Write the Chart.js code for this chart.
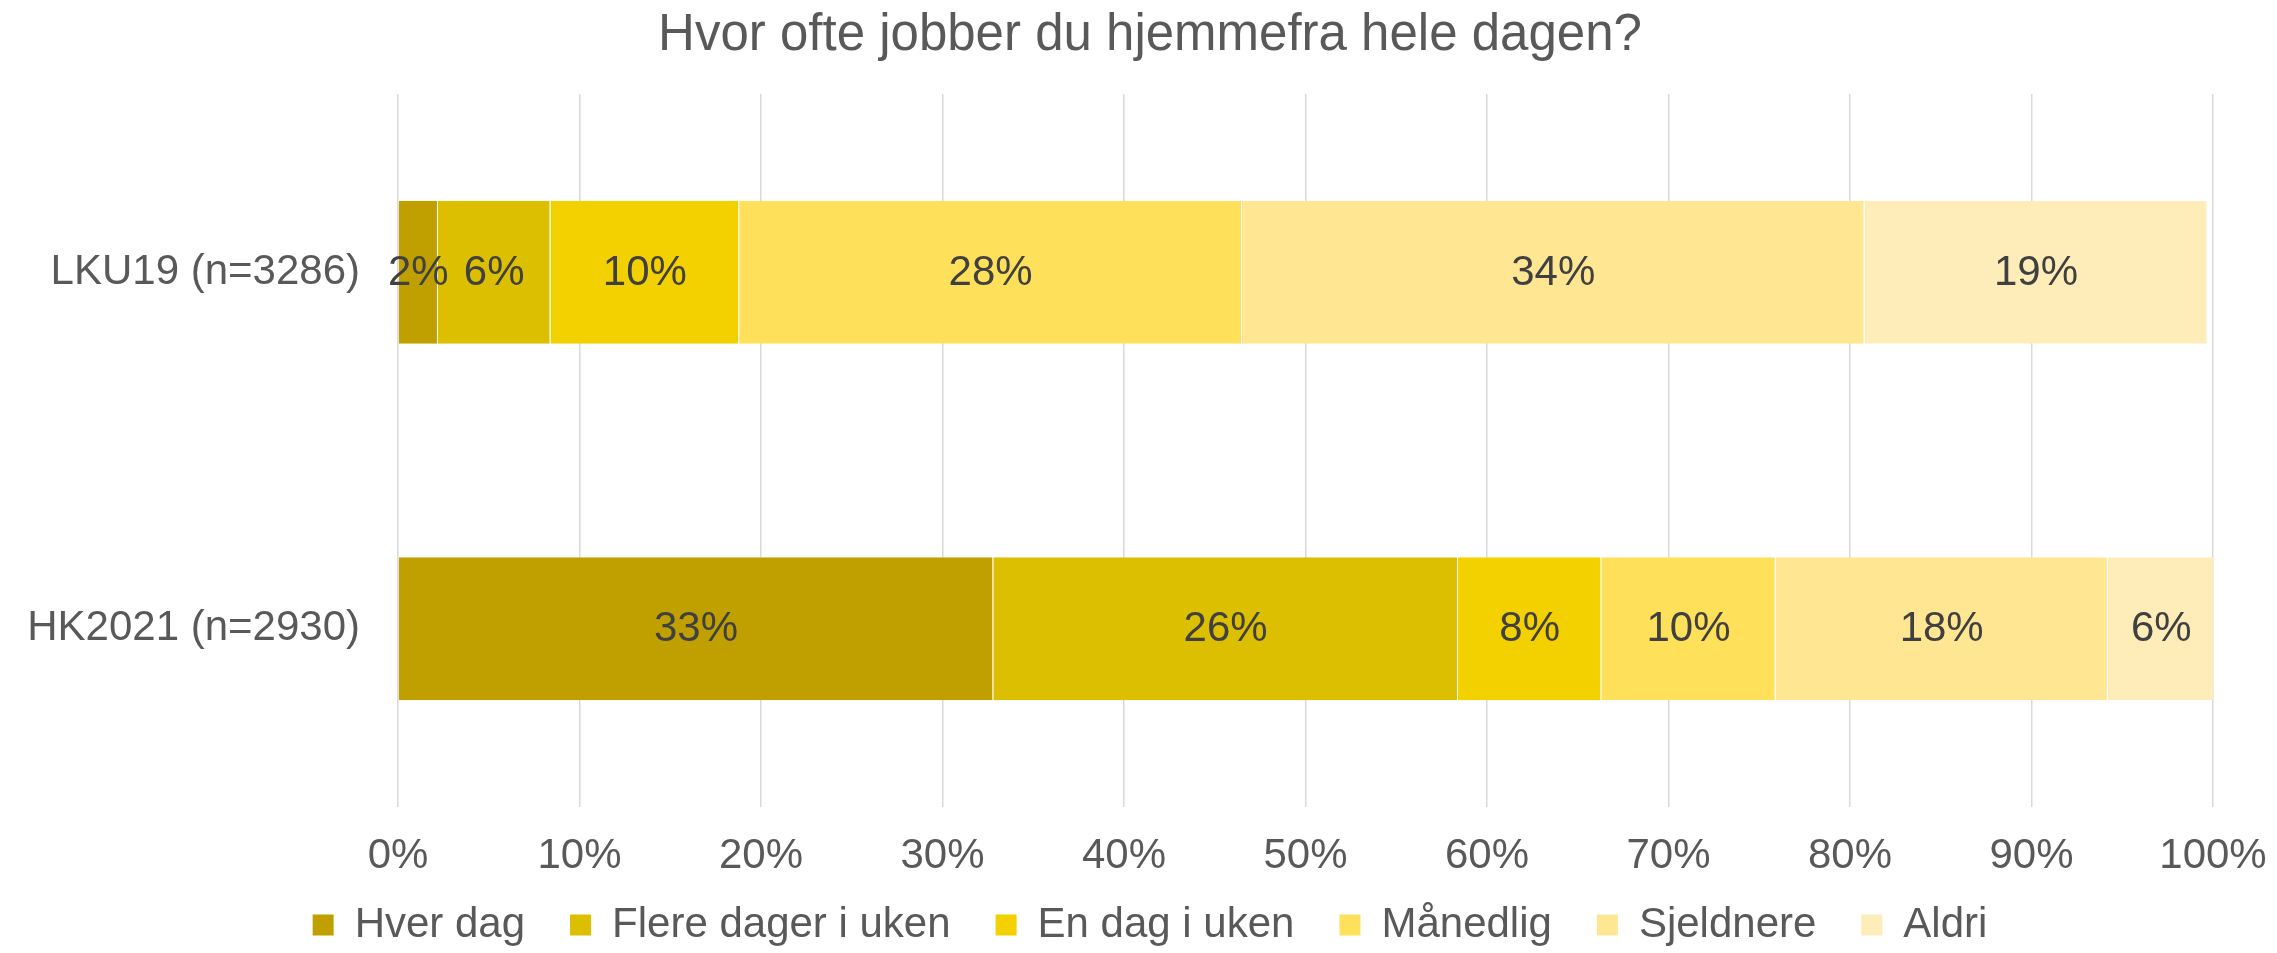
<!DOCTYPE html>
<html>
<head>
<meta charset="utf-8">
<script src="https://cdn.jsdelivr.net/npm/chart.js@4.4.1/dist/chart.umd.min.js"></script>
<style>
html,body{margin:0;padding:0;background:#fff;}
#wrap{width:2277px;height:953px;position:relative;}
</style>
</head>
<body>
<div id="wrap"><canvas id="c" width="2277" height="953"></canvas></div>
<script>
const categories = ['LKU19 (n=3286)', 'HK2021 (n=2930)'];
const seriesNames = ['Hver dag', 'Flere dager i uken', 'En dag i uken', 'Månedlig', 'Sjeldnere', 'Aldri'];
const hverDag = [2.2, 32.8];
const flereDager = [6.2, 25.6];
const enDag = [10.4, 7.9];
const maanedlig = [27.7, 9.6];
const sjeldnere = [34.3, 18.3];
const aldri = [18.9, 5.9];
const xTicks = [0, 10, 20, 30, 40, 50, 60, 70, 80, 90, 100];
const colors = ['#BFA000', '#DBBF00', '#F3D100', '#FFE05A', '#FFE693', '#FFEDB9'];
const seriesValues = [hverDag, flereDager, enDag, maanedlig, sjeldnere, aldri];

const FONT = "'Liberation Sans', Arial, sans-serif";

const barLabels = {
  id: 'barLabels',
  afterDatasetsDraw(chart) {
    const ctx = chart.ctx;
    ctx.save();
    ctx.font = '42px ' + FONT;
    ctx.fillStyle = '#404040';
    ctx.textAlign = 'center';
    ctx.textBaseline = 'middle';
    chart.data.datasets.forEach((ds, i) => {
      const meta = chart.getDatasetMeta(i);
      meta.data.forEach((el, j) => {
        const p = el.getProps(['x', 'y', 'base'], true);
        const v = ds.data[j];
        ctx.fillText(Math.round(v) + '%', (p.x + p.base) / 2, p.y + 1);
      });
    });
    ctx.restore();
  }
};

new Chart(document.getElementById('c'), {
  type: 'bar',
  data: {
    labels: categories,
    datasets: seriesNames.map((name, i) => ({
      label: name,
      data: seriesValues[i],
      backgroundColor: colors[i],
      borderColor: 'rgba(255,255,255,0.35)',
      borderWidth: {top: 0, bottom: 0, left: 0, right: 1},
      borderSkipped: false,
      categoryPercentage: 1,
      barPercentage: 0.401
    }))
  },
  options: {
    indexAxis: 'y',
    responsive: false,
    animation: false,
    devicePixelRatio: 1,
    layout: { padding: { left: 87, right: 64, top: 0, bottom: 0 } },
    scales: {
      x: {
        stacked: true,
        min: 0,
        max: 100,
        afterBuildTicks(scale) { scale.ticks = xTicks.map(v => ({ value: v })); },
        afterFit(scale) { scale.height = 52; scale._computeLabelArea = () => null; },
        grid: { color: '#D9D9D9', lineWidth: 1.5, drawTicks: false },
        border: { display: false },
        ticks: {
          padding: 10,
          color: '#595959',
          font: { family: FONT, size: 42, lineHeight: 1.88 },
          callback: v => v + '%',
          maxRotation: 0,
          autoSkip: false
        }
      },
      y: {
        stacked: true,
        afterFit(scale) { scale.width = 311; scale._computeLabelArea = () => null; },
        grid: { display: false, drawTicks: false },
        border: { display: false },
        ticks: {
          padding: 38,
          color: '#595959',
          font: { family: FONT, size: 42 }
        }
      }
    },
    plugins: {
      title: {
        display: true,
        text: 'Hvor ofte jobber du hjemmefra hele dagen?',
        color: '#595959',
        font: { family: FONT, size: 51, weight: 'normal', lineHeight: 1.2 },
        padding: { top: 5, bottom: 27.8 }
      },
      legend: {
        position: 'bottom',
        maxHeight: 94,
        labels: {
          color: '#595959',
          font: { family: FONT, size: 42 },
          boxWidth: 21,
          boxHeight: 21,
          padding: 45,
          generateLabels(chart) {
            return Chart.defaults.plugins.legend.labels.generateLabels(chart).map(l => Object.assign(l, { lineWidth: 0, strokeStyle: 'rgba(0,0,0,0)' }));
          }
        }
      },
      tooltip: { enabled: false }
    }
  },
  plugins: [barLabels]
});
</script>
</body>
</html>
